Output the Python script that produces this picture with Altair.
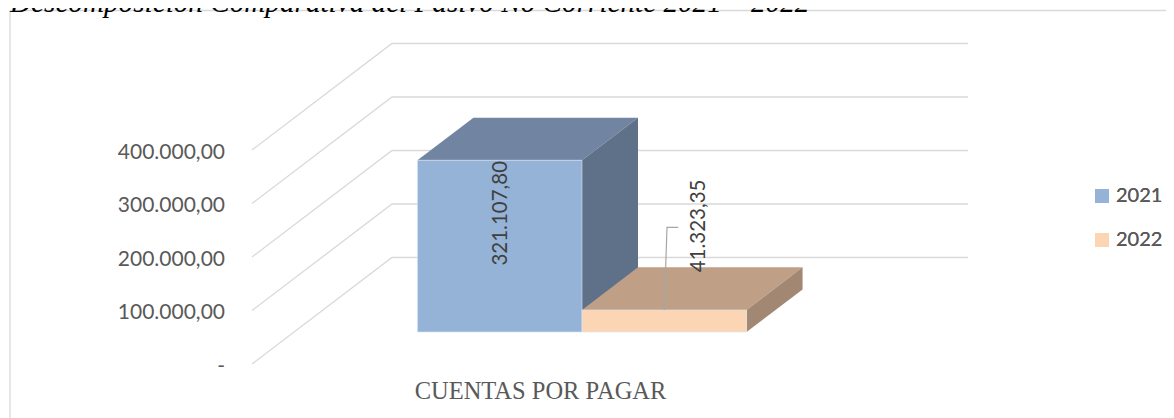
import altair as alt
import pandas as pd

# ---- data ----
title_text = ["Descomposición Comparativa del Pasivo No Corriente 2021 – 2022"]
category = ["CUENTAS POR PAGAR"]
years = ["2021", "2022"]
values = [321107.80, 41323.35]
value_labels = ["321.107,80", "41.323,35"]
tick_values = [0, 100000, 200000, 300000, 400000]
tick_labels = ["-", "100.000,00", "200.000,00", "300.000,00", "400.000,00"]
front_colors = ["#95B3D7", "#FCD5B5"]
top_colors = ["#7185A3", "#BF9F85"]
side_colors = ["#5F7188", "#A28873"]

# ---- fake-3D projection of the plot box ----
W, H = 1158, 410
FLOOR_LEFT, FLOOR_W = 252 - 8, 576
BASE_Y = 364 - 8
K = 53.5 / 100000
DEPTH_DX, DEPTH_DY = 140, 106.5
BAR_W = 1 / 3.5
BAR_START = 0.75 / 3.5
D0, D1 = 0.3, 0.7

xs = alt.Scale(domain=[-FLOOR_LEFT / FLOOR_W, (W - FLOOR_LEFT) / FLOOR_W], nice=False, zero=False)
ys = alt.Scale(domain=[(BASE_Y - H) / K, BASE_Y / K], nice=False, zero=False)


def px(u, d):
    return u + d * DEPTH_DX / FLOOR_W


def py(v, d):
    return v + d * DEPTH_DY / K


def X(f="x"):
    return alt.X(f"{f}:Q", scale=xs, axis=None)


def Y(f="y"):
    return alt.Y(f"{f}:Q", scale=ys, axis=None)


GRID = "#D9D9D9"
SANS = "Lato"
SERIF = "Liberation Serif"
layers = []

# outer frame
frame = pd.DataFrame({"a": [0]})
layers.append(alt.Chart(frame).mark_rule(color=GRID, strokeWidth=1.3).encode(
    x=alt.value(2), x2=alt.value(W), y=alt.value(2.5)))
layers.append(alt.Chart(frame).mark_rule(color=GRID, strokeWidth=1.3).encode(
    x=alt.value(2), y=alt.value(2.5), y2=alt.value(H)))

# gridlines: floor-side diagonal then back wall
rows = []
for t in tick_values:
    for u, d in [(0, 0), (0, 1), (1, 1)]:
        rows.append({"t": t, "x": px(u, d), "y": py(t, d)})
layers.append(alt.Chart(pd.DataFrame(rows)).mark_line(color=GRID, strokeWidth=1.3).encode(
    x=X(), y=Y(), detail="t:N", order=alt.Order("x:Q")))

# tick labels
layers.append(alt.Chart(pd.DataFrame({"y": tick_values, "label": tick_labels})).mark_text(
    align="right", baseline="middle", font=SANS, fontSize=21, color="#595959", dy=2.5).encode(
    x=alt.value(225 - 8), y=Y(), text="label:N"))

# bars
for i, (yr, val) in enumerate(zip(years, values)):
    u0 = BAR_START + i * BAR_W
    u1 = u0 + BAR_W
    top = pd.DataFrame({
        "y": [py(val, D0), py(val, D1)],
        "x": [px(u0, D0), px(u0, D1)],
        "x2": [px(u1, D0), px(u1, D1)],
    })
    layers.append(alt.Chart(top).mark_area(orient="horizontal", color=top_colors[i]).encode(
        y=Y(), x=X(), x2="x2:Q"))
    side = pd.DataFrame({
        "x": [px(u1, D0), px(u1, D1)],
        "y": [py(val, D0), py(val, D1)],
        "y2": [py(0, D0), py(0, D1)],
    })
    layers.append(alt.Chart(side).mark_area(orient="vertical", color=side_colors[i]).encode(
        x=X(), y=Y(), y2="y2:Q"))
    front = pd.DataFrame({
        "year": [yr], "x": [px(u0, D0)], "x2": [px(u1, D0)],
        "y": [py(0, D0)], "y2": [py(val, D0)],
    })
    layers.append(alt.Chart(front).mark_rect(stroke="#DCE6F1", strokeWidth=0.6).encode(
        x=X(), x2="x2:Q", y=Y(), y2="y2:Q",
        color=alt.Color("year:N",
                        scale=alt.Scale(domain=years, range=front_colors),
                        legend=alt.Legend(
                            title=None, orient="none", legendX=1092 - 8, legendY=186 - 8,
                            padding=0, symbolType="square", symbolSize=196, symbolStrokeWidth=0,
                            labelFont=SANS, labelFontSize=20, labelColor="#595959",
                            labelOffset=4, rowPadding=24, symbolOpacity=1)),
    ))

# leader line for the 2022 label, hung from the middle of its top edge
u_mid = BAR_START + 1.5 * BAR_W
val22 = values[1]
LEAD_DX = 2.7 / FLOOR_W
LEAD_W = 14 / FLOOR_W
LEAD_RISE = 82.5 / K
leader = pd.DataFrame({
    "o": [0, 1, 2],
    "x": [px(u_mid, D0), px(u_mid, D0) + LEAD_DX, px(u_mid, D0) + LEAD_W],
    "y": [py(val22, D0), py(val22, D0) + LEAD_RISE, py(val22, D0) + LEAD_RISE],
})
layers.append(alt.Chart(leader).mark_line(color="#A6A6A6", strokeWidth=1.2).encode(
    x=X(), y=Y(), order="o:O"))

# rotated value labels
lab_x = [px(BAR_START + 0.5 * BAR_W, D0) + 1 / FLOOR_W, px(u_mid, D0) + 35 / FLOOR_W]
lab_y = [py(values[0], D0) - 53 / K, py(val22, D0) + 84 / K]
layers.append(alt.Chart(pd.DataFrame({"x": lab_x, "y": lab_y, "label": value_labels})).mark_text(
    angle=270, align="center", baseline="middle", font=SANS, fontSize=20.5, color="#404040").encode(
    x=X(), y=Y(), text="label:N"))

# category label
layers.append(alt.Chart(pd.DataFrame({"label": category})).mark_text(
    align="center", baseline="middle", font=SERIF, fontSize=24.5, color="#595959").encode(
    x=alt.value(540.5 - 8), y=alt.value(392 - 8), text="label:N"))

# chart caption, whose lower slice is all that shows in the reference too
layers.append(alt.Chart(pd.DataFrame({"label": title_text})).mark_text(
    align="left", baseline="alphabetic", font=SERIF, fontSize=29.2, fontStyle="italic", color="#000000").encode(
    x=alt.value(2), y=alt.value(4), text="label:N"))

chart = alt.layer(*layers).resolve_scale(color="independent").properties(
    width=W, height=H, padding=0, background="white",
    autosize=alt.AutoSizeParams(type="none"),
).configure_view(stroke=None)

chart.save("out.html", embed_options={"renderer": "svg", "actions": False})
